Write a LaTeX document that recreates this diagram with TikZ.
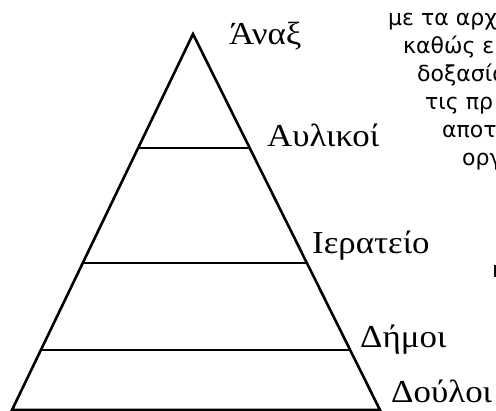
\documentclass[tikz,border=0pt]{standalone}
\usepackage{fontspec}
\setmainfont{Liberation Serif}[FakeStretch=1.09]
\newfontfamily\notefont{DejaVu Sans}
\usepackage{tikz}
\tikzset{
  side/.style={draw=black, line width=2.6pt, line join=miter},
  layer/.style={draw=black, line width=1.8pt},
  rank/.style={anchor=base west, inner sep=0pt, font=\fontsize{32}{32}\selectfont},
  note/.style={anchor=base west, inner sep=0pt, font=\notefont\fontsize{22}{28}\selectfont}
}

\begin{document}
\begin{tikzpicture}[x=1pt, y=-1pt]

% Frame (the text on the right runs off the page)
\clip (0,0) rectangle (496,411);

% Pyramid
\coordinate (apex) at (193,34);
\coordinate (baseL) at (12,410);
\coordinate (baseR) at (380,410);
\draw[side] (baseL) -- (apex) -- (baseR) -- cycle;

% Layers
\coordinate (left1) at (138,148);  \coordinate (right1) at (250,148);
\coordinate (left2) at (83,263);   \coordinate (right2) at (307,263);
\coordinate (left3) at (41,350);   \coordinate (right3) at (350,350);
\foreach \i in {1,2,3}
  \draw[layer] (left\i) -- (right\i);

% Ranks
\node[rank] (anax) at (229,45) {Άναξ};
\node[rank] (aulikoi) at (267,147) {Αυλικοί};
\node[rank] (ierateio) at (312,254) {Ιερατείο};
\node[rank] (dimoi) at (360,348) {Δήμοι};
\node[rank] (douloi) at (391,403) {Δούλοι};

% Text on the right
\foreach \k/\x/\txt in {0/388/{με τα αρχ}, 1/403/{καθώς ε}, 2/417/{δοξασία},
    3/425/{τις πρ}, 4/442/{αποτ}, 5/462/{οργ}, 9/492/{κ}}
  \node[note] (note\k) at (\x,26+28*\k) {\txt};

\end{tikzpicture}
\end{document}
